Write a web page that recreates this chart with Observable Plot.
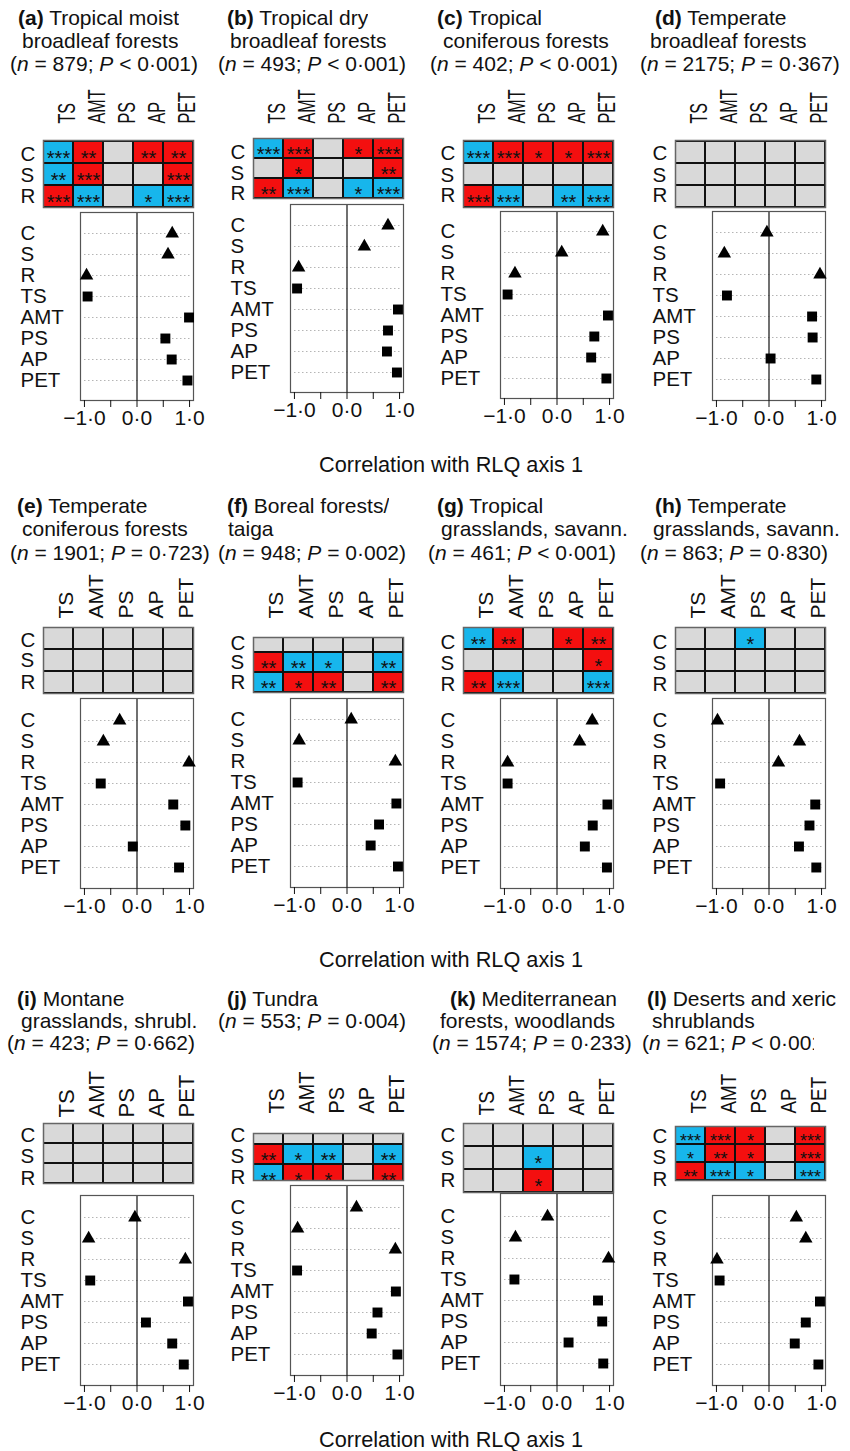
<!DOCTYPE html>
<html><head><meta charset="utf-8">
<script src="https://cdn.jsdelivr.net/npm/d3@7"></script>
<script src="https://cdn.jsdelivr.net/npm/@observablehq/plot@0.6"></script>
<style>
body{margin:0;background:#fff;}
#fig{position:relative;width:850px;height:1451px;overflow:hidden;font-family:"Liberation Sans",Arial,sans-serif;color:#111;background:#fff;}
.t{position:absolute;white-space:nowrap;font-size:21px;line-height:24px;overflow:hidden;}
.p{position:absolute;}
.ax{position:absolute;white-space:nowrap;font-size:21.7px;line-height:20px;transform:translateX(-50%);}
</style></head><body><div id="fig"></div>
<script>
// ---------------- data ----------------
const panelIds = ["a","b","c","d","e","f","g","h","i","j","k","l"];
const biomeLine1 = ["Tropical moist","Tropical dry","Tropical","Temperate","Temperate","Boreal forests/","Tropical","Temperate","Montane","Tundra","Mediterranean","Deserts and xeric"];
const biomeLine2 = ["broadleaf forests","broadleaf forests","coniferous forests","broadleaf forests","coniferous forests","taiga","grasslands, savann.","grasslands, savann.","grasslands, shrubl.","","forests, woodlands","shrublands"];
const nSites = [879,493,402,2175,1901,948,461,863,423,553,1574,621];
const pText = ["< 0·001","< 0·001","< 0·001","= 0·367","= 0·723","= 0·002","< 0·001","= 0·830","= 0·662","= 0·004","= 0·233","< 0·001"];
const strategies = ["C","S","R"];
const envVars = ["TS","AMT","PS","AP","PET"];
const dotLabels = ["C","S","R","TS","AMT","PS","AP","PET"];
const xTicks = [-1,-0.5,0,0.5,1];
const axisTitle = "Correlation with RLQ axis 1";

// correlation with RLQ axis 1, order = dotLabels
const corr_a = [0.67, 0.59, -0.96, -0.94, 0.99, 0.54, 0.66, 0.96];
const corr_b = [0.78, 0.33, -0.92, -0.95, 0.97, 0.78, 0.76, 0.95];
const corr_c = [0.87, 0.09, -0.80, -0.94, 0.97, 0.71, 0.65, 0.94];
const corr_d = [-0.04, -0.85, 0.97, -0.80, 0.82, 0.83, 0.03, 0.90];
const corr_e = [-0.33, -0.64, 0.99, -0.69, 0.69, 0.92, -0.08, 0.80];
const corr_f = [0.08, -0.91, 0.92, -0.94, 0.94, 0.61, 0.45, 0.97];
const corr_g = [0.67, 0.43, -0.94, -0.94, 0.96, 0.68, 0.53, 0.95];
const corr_h = [-0.98, 0.58, 0.18, -0.93, 0.88, 0.77, 0.57, 0.90];
const corr_i = [-0.04, -0.92, 0.92, -0.89, 0.97, 0.17, 0.67, 0.89];
const corr_j = [0.18, -0.94, 0.92, -0.95, 0.93, 0.58, 0.47, 0.96];
const corr_k = [-0.18, -0.79, 0.98, -0.81, 0.78, 0.86, 0.22, 0.88];
const corr_l = [0.52, 0.70, -0.99, -0.94, 0.97, 0.70, 0.49, 0.94];

// fourth-corner significance: sign = direction, magnitude = number of stars; rows C,S,R; cols TS..PET
const sig_a = [[-3, 2, 0, 2, 2], [-2, 3, 0, 0, 3], [3, -3, 0, -1, -3]];
const sig_b = [[-3, 3, 0, 1, 3], [0, 1, 0, 0, 2], [2, -3, 0, -1, -3]];
const sig_c = [[-3, 3, 1, 1, 3], [0, 0, 0, 0, 0], [3, -3, 0, -2, -3]];
const sig_d = [[0, 0, 0, 0, 0], [0, 0, 0, 0, 0], [0, 0, 0, 0, 0]];
const sig_e = [[0, 0, 0, 0, 0], [0, 0, 0, 0, 0], [0, 0, 0, 0, 0]];
const sig_f = [[0, 0, 0, 0, 0], [2, -2, -1, 0, -2], [-2, 1, 2, 0, 2]];
const sig_g = [[-2, 2, 0, 1, 2], [0, 0, 0, 0, 1], [2, -3, 0, 0, -3]];
const sig_h = [[0, 0, -1, 0, 0], [0, 0, 0, 0, 0], [0, 0, 0, 0, 0]];
const sig_i = [[0, 0, 0, 0, 0], [0, 0, 0, 0, 0], [0, 0, 0, 0, 0]];
const sig_j = [[0, 0, 0, 0, 0], [2, -1, -2, 0, -2], [-2, 1, 1, 0, 2]];
const sig_k = [[0, 0, 0, 0, 0], [0, 0, -1, 0, 0], [0, 0, 1, 0, 0]];
const sig_l = [[-3, 3, 1, 0, 3], [-1, 2, 1, 0, 3], [2, -3, -1, 0, -3]];

const corrs = [corr_a,corr_b,corr_c,corr_d,corr_e,corr_f,corr_g,corr_h,corr_i,corr_j,corr_k,corr_l];
const sigs = [sig_a,sig_b,sig_c,sig_d,sig_e,sig_f,sig_g,sig_h,sig_i,sig_j,sig_k,sig_l];

// ---------------- layout ----------------
const colX = [0, 210, 420, 632];
const titleY = [[18, 41, 64], [506, 529, 553], [999, 1021, 1043]];
const titleX = [[18,22,10],[227,230,218],[437,443,430],[655,650,640],[17,22,10],[227,228,218],[437,441,428],[655,653,640],[17,21,7],[227,218],[450,440,432],[647,652,642]];
// [label bottom, visible top, full top, visible bottom, full bottom]
const heatY = [[123,140,140,207,207],[123,138,138,198,198],[123,140,140,207,207],[123,140,140,207,207],
               [618,627,627,693,693],[618,637,632,692,692],[618,627,627,693,693],[618,627,627,693,693],
               [1117,1123,1123,1183,1183],[1113,1133,1124,1180,1184],[1115,1123,1123,1192,1192],[1113,1126,1126,1180,1180]];
// vertical centres of the C, S, R row names beside each heat map
const rowLabelY = [[154,175,196],[152,173,193],[153,175,195],[153,175,195],
                   [640,660,682],[643,662,682],[642,663,684],[642,663,684],
                   [1135,1156,1178],[1135,1156,1177],[1135,1158,1180],[1136,1157,1179]];
const boxY = [[212,400],[204,392],[211,398],[211,400],[698,888],[698,887],[698,888],[698,888],[1195,1385],[1185,1375],[1193,1385],[1195,1385]];
const axisTitleY = [465, 960, 1440];
const colLabelSize = [23, 21, 22];
const colLabelStretch = [0.7,0.7,0.7,0.7,1,1,1,1,1,0.9,0.87,0.86];
const RED = "#f40f0f", BLUE = "#17b6ec", GREY = "#d9d9d9";
const FONT = "'Liberation Sans', Arial, sans-serif";

const fig = document.getElementById("fig");
const fmt = d => Number.isInteger(d) ? (d < 0 ? "\u2212" : "") + Math.abs(d).toFixed(1).replace(".", "\u00b7") : "";
const fillFor = v => v > 0 ? RED : v < 0 ? BLUE : GREY;

function place(el, left, top) {
  el.classList.add("p");
  el.style.left = left + "px";
  el.style.top = top + "px";
  fig.appendChild(el);
}

panelIds.forEach((id, i) => {
  const row = Math.floor(i / 4), col = i % 4, x0 = colX[col];
  // titles
  const lines = [`<b>(${id})</b> ${biomeLine1[i]}`];
  if (biomeLine2[i]) lines.push(biomeLine2[i]);
  lines.push(`(<i>n</i> = ${nSites[i]}; <i>P</i> ${pText[i]})`);
  lines.forEach((html, k) => {
    const d = document.createElement("div");
    d.className = "t";
    d.innerHTML = html;
    d.style.left = titleX[i][k] + "px";
    d.style.top = (titleY[row][k] - 12) + "px";
    if (id === "l" && k === 2) d.style.width = (814 - titleX[i][k]) + "px";
    fig.appendChild(d);
  });

  // heat map
  const [labB, visT, fullT, visB, fullB] = heatY[i];
  const svgTop = labB - 60;
  const mt = visT - svgTop;
  const rowH = (fullB - fullT) / strategies.length;
  const starSize = Math.min(20, rowH);
  const cells = [];
  strategies.forEach((s, r) => envVars.forEach((e, c) => cells.push({strat: s, env: e, v: sigs[i][r][c]})));
  const heat = Plot.plot({
    width: 200, height: mt + (visB - visT) + 2,
    marginLeft: 43, marginRight: 7, marginTop: mt, marginBottom: 2,
    x: {type: "band", domain: envVars, padding: 0, axis: null},
    y: {type: "band", domain: strategies, padding: 0, axis: null, range: [fullT - svgTop, fullB - svgTop]},
    color: {type: "identity"},
    style: {fontFamily: FONT, color: "#111", background: "none", overflow: "visible"},
    marks: [
      Plot.cell(cells, {x: "env", y: "strat", fill: d => fillFor(d.v), stroke: "#111", strokeWidth: 2, clip: true}),
      Plot.frame({stroke: "#666", strokeWidth: 1.5}),
      Plot.text(cells.filter(d => d.v !== 0), {x: "env", y: "strat", text: d => "*".repeat(Math.abs(d.v)), fontSize: starSize, dy: starSize * 0.3, fill: "#111"}),
      Plot.text(envVars, {x: d => d, text: d => d, frameAnchor: "top", rotate: -90, textAnchor: "start", dy: -(visT - labB), fontSize: colLabelSize[row]}),
      ...strategies.map((s, k) => Plot.text([s], {text: d => d, frameAnchor: "top-left", textAnchor: "start", lineAnchor: "middle", dx: -23, dy: rowLabelY[i][k] - visT, fontSize: 20.5}))
    ]
  });
  // condense the rotated column labels along their length, as in the original panels
  heat.querySelectorAll("text").forEach(t => {
    const tr = t.getAttribute("transform") || "";
    if (tr.includes("rotate")) t.setAttribute("transform", tr + ` scale(${colLabelStretch[i]},1)`);
  });
  place(heat, x0, svgTop);

  // dot plot
  const [bT, bB] = boxY[i];
  const pts = dotLabels.map((lab, k) => ({lab, v: corrs[i][k], kind: k < 3 ? "strategy" : "env"}));
  const dots = Plot.plot({
    width: 200, height: (bB - bT) + 2 + 45,
    marginLeft: 80, marginRight: 7, marginTop: 2, marginBottom: 45,
    x: {domain: [-1.075, 1.075]},
    y: {type: "point", domain: dotLabels, padding: 0.95, axis: null},
    style: {fontFamily: FONT, color: "#111", background: "none", overflow: "visible"},
    marks: [
      Plot.ruleY(dotLabels, {y: d => d, stroke: "#b5b5b5", strokeDasharray: "1.5,2.5", strokeWidth: 1, insetLeft: 4, insetRight: 2}),
      Plot.ruleX([0], {stroke: "#111", strokeWidth: 1.2}),
      Plot.frame({stroke: "#555", strokeWidth: 1.2}),
      Plot.dot(pts.filter(d => d.kind === "strategy"), {x: "v", y: "lab", symbol: "triangle", r: 5, fill: "#000", stroke: "none"}),
      Plot.dot(pts.filter(d => d.kind === "env"), {x: "v", y: "lab", symbol: "square", r: 5.6, fill: "#000", stroke: "none"}),
      Plot.axisX({ticks: xTicks, tickSize: 7, tickPadding: 3, tickFormat: fmt, fontSize: 21, label: null}),
      Plot.text(dotLabels, {y: d => d, text: d => d, frameAnchor: "left", textAnchor: "start", dx: -60, fontSize: 20.5})
    ]
  });
  place(dots, x0, bT - 2);
});

axisTitleY.forEach(y => {
  const d = document.createElement("div");
  d.className = "ax";
  d.textContent = axisTitle;
  d.style.left = "451px";
  d.style.top = (y - 10) + "px";
  fig.appendChild(d);
});
</script></body></html>
